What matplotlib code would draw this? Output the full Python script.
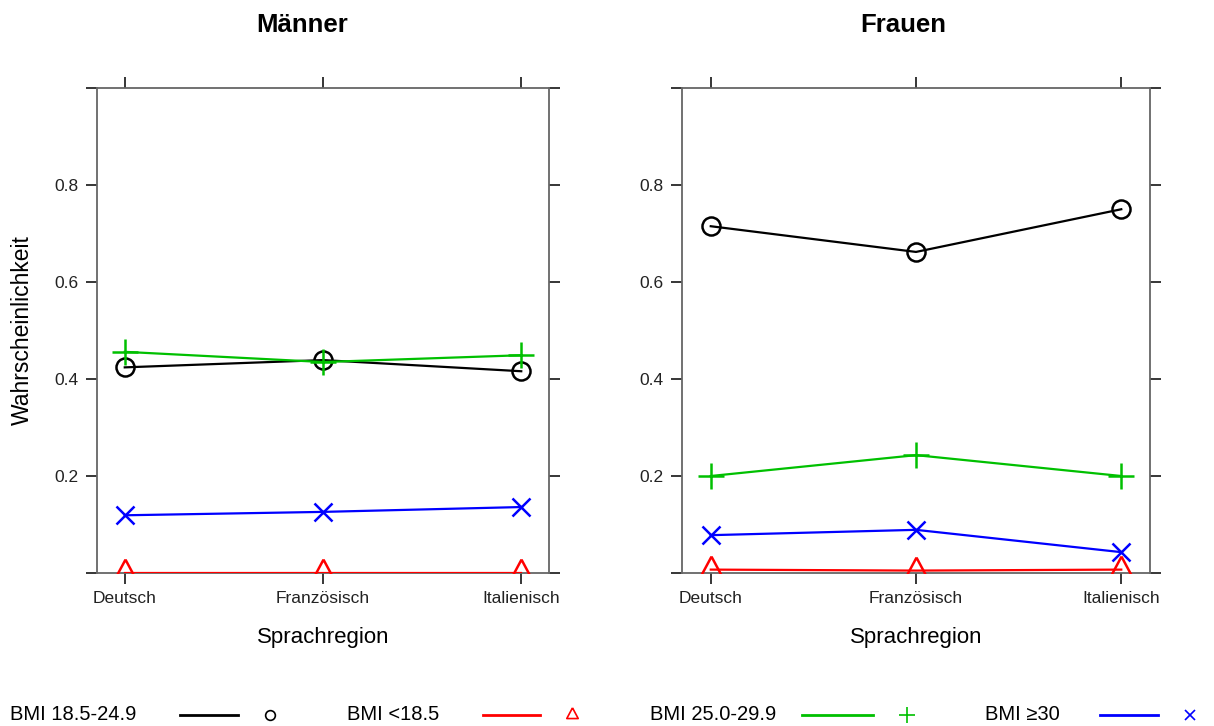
import matplotlib
matplotlib.use('Agg')
import matplotlib.pyplot as plt
from matplotlib.lines import Line2D

plt.rcParams['font.family'] = ['Liberation Sans', 'DejaVu Sans']

regionen = ['Deutsch', 'Französisch', 'Italienisch']
gruppen = ['BMI 18.5-24.9', 'BMI <18.5', 'BMI 25.0-29.9', 'BMI ≥30']

maenner_normal = [0.424, 0.439, 0.416]
maenner_unter = [0.001, 0.001, 0.001]
maenner_ueber = [0.456, 0.435, 0.449]
maenner_adipos = [0.119, 0.126, 0.136]

frauen_normal = [0.715, 0.662, 0.750]
frauen_unter = [0.007, 0.005, 0.007]
frauen_ueber = [0.200, 0.243, 0.200]
frauen_adipos = [0.078, 0.089, 0.043]

# Dreieck wie in R (Spitze weiter vom Zentrum als die Basis)
dreieck = [(0, 1), (-0.75, -0.4), (0.75, -0.4), (0, 1)]

farben = ['black', '#ff0000', '#00c000', '#0000ff']
marker = ['o', dreieck, '+', 'x']
msize = [13, 20, 19, 13]

fig = plt.figure(figsize=(12.14, 7.26), dpi=100)
ax1 = fig.add_axes([97 / 1214, 1 - 573 / 726, 452 / 1214, 485 / 726])
ax2 = fig.add_axes([682 / 1214, 1 - 573 / 726, 468 / 1214, 485 / 726])

x = range(len(regionen))
for ax, daten, titel, tx in [(ax1, [maenner_normal, maenner_unter, maenner_ueber, maenner_adipos], 'Männer', 302),
                             (ax2, [frauen_normal, frauen_unter, frauen_ueber, frauen_adipos], 'Frauen', 903)]:
    for werte, c, m, ms in zip(daten, farben, marker, msize):
        ax.plot(x, werte, color=c, lw=1.6, marker=m, ms=ms, mfc='none', mew=1.8, zorder=3)
    ax.set_xlim(-0.14, 2.14)
    ax.set_ylim(0, 1.0)
    ax.set_xticks(list(x))
    ax.set_xticklabels(regionen, fontsize=12.5, color='#222222')
    ax.set_yticks([0, 0.2, 0.4, 0.6, 0.8, 1.0])
    ax.set_yticklabels(['', '0.2', '0.4', '0.6', '0.8', ''], fontsize=12.5, color='#222222')
    ax.tick_params(direction='out', length=8, width=1.1, color='black',
                   top=True, right=True, pad=5)
    for s in ax.spines.values():
        s.set_color('#666666')
        s.set_linewidth(1.3)
    ax.set_xlabel('Sprachregion', fontsize=16)
    ax.xaxis.set_label_coords(0.5, (573 - 637) / 485)
    ax.xaxis.label.set_va('center')
    fig.text(tx / 1214, 1 - 25 / 726, titel, fontsize=18.5, fontweight='bold',
             ha='center', va='center')

ax1.set_ylabel('Wahrscheinlichkeit', fontsize=16.5)
ax1.yaxis.set_label_coords((22 - 97) / 452, 0.5)
ax1.yaxis.label.set_va('center')

# Legende unten
lx = [10, 347, 650, 985]
lines_x = [(180, 238), (483, 540), (802, 873), (1100, 1158)]
mx = [270, 572, 907, 1190]
leg_ms = [7, 11, 12, 7]
ly = 1 - 715 / 726
for i in range(4):
    fig.text(lx[i] / 1214, ly, gruppen[i], fontsize=14.5, ha='left', va='center')
    fig.add_artist(Line2D([lines_x[i][0] / 1214, lines_x[i][1] / 1214], [ly, ly],
                          color=farben[i], lw=2, transform=fig.transFigure))
    fig.add_artist(Line2D([mx[i] / 1214], [ly], color=farben[i], marker=marker[i],
                          ms=leg_ms[i], mfc='none', mew=1.2,
                          transform=fig.transFigure))

fig.savefig('out.png', dpi=100)
